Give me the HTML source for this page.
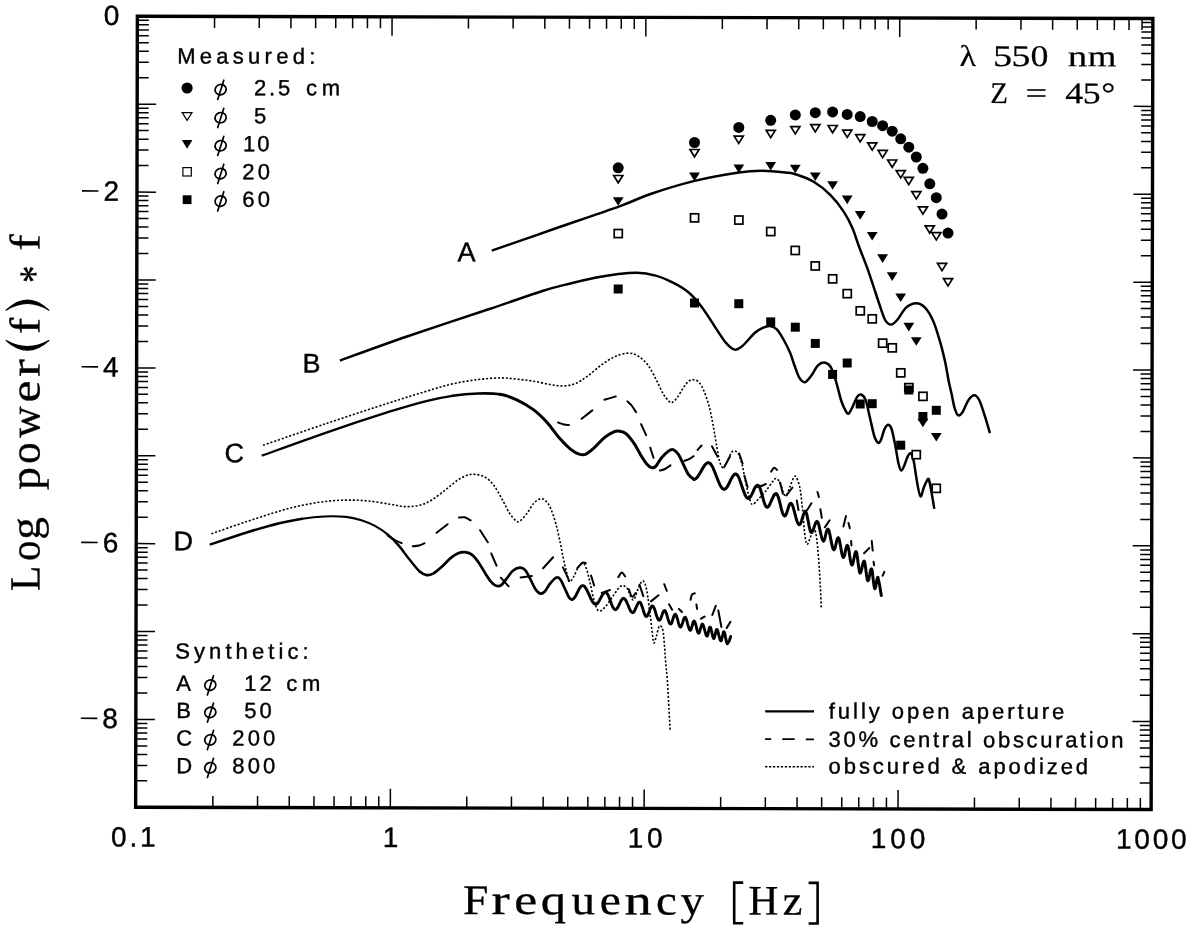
<!DOCTYPE html>
<html><head><meta charset="utf-8"><title>Log power(f)*f vs Frequency</title>
<style>html,body{margin:0;padding:0;background:#fff}svg{display:block;will-change:transform}text{font-family:"Liberation Sans",sans-serif;fill:#000}.sf{font-family:"Liberation Serif",serif}</style></head><body>
<svg width="1188" height="927" viewBox="0 0 1188 927">
<rect width="1188" height="927" fill="#fff"/>
<g transform="rotate(0.125 644.25 412.9)">
<rect x="136.5" y="17.4" width="1015.5" height="791.0" fill="none" stroke="#000" stroke-width="3.4"/>
<path d="M213.7 17.4v11.5M213.7 808.4v-11.5M258.4 17.4v11.5M258.4 808.4v-11.5M290.1 17.4v11.5M290.1 808.4v-11.5M314.8 17.4v11.5M314.8 808.4v-11.5M334.9 17.4v11.5M334.9 808.4v-11.5M351.8 17.4v11.5M351.8 808.4v-11.5M366.6 17.4v11.5M366.6 808.4v-11.5M379.6 17.4v11.5M379.6 808.4v-11.5M391.2 17.4v19M391.2 808.4v-19M467.6 17.4v11.5M467.6 808.4v-11.5M512.3 17.4v11.5M512.3 808.4v-11.5M544 17.4v11.5M544 808.4v-11.5M568.6 17.4v11.5M568.6 808.4v-11.5M588.7 17.4v11.5M588.7 808.4v-11.5M605.7 17.4v11.5M605.7 808.4v-11.5M620.4 17.4v11.5M620.4 808.4v-11.5M633.4 17.4v11.5M633.4 808.4v-11.5M645 17.4v19M645 808.4v-19M721.5 17.4v11.5M721.5 808.4v-11.5M766.2 17.4v11.5M766.2 808.4v-11.5M797.9 17.4v11.5M797.9 808.4v-11.5M822.5 17.4v11.5M822.5 808.4v-11.5M842.6 17.4v11.5M842.6 808.4v-11.5M859.6 17.4v11.5M859.6 808.4v-11.5M874.3 17.4v11.5M874.3 808.4v-11.5M887.3 17.4v11.5M887.3 808.4v-11.5M898.9 17.4v19M898.9 808.4v-19M975.3 17.4v11.5M975.3 808.4v-11.5M1020.1 17.4v11.5M1020.1 808.4v-11.5M1051.8 17.4v11.5M1051.8 808.4v-11.5M1076.4 17.4v11.5M1076.4 808.4v-11.5M1096.5 17.4v11.5M1096.5 808.4v-11.5M1113.5 17.4v11.5M1113.5 808.4v-11.5M1128.2 17.4v11.5M1128.2 808.4v-11.5M1141.2 17.4v11.5M1141.2 808.4v-11.5M136.5 105.3h19M1152 105.3h-19M136.5 78.8h11.5M1152 78.8h-11.5M136.5 63.4h11.5M1152 63.4h-11.5M136.5 52.4h11.5M1152 52.4h-11.5M136.5 43.9h11.5M1152 43.9h-11.5M136.5 36.9h11.5M1152 36.9h-11.5M136.5 31h11.5M1152 31h-11.5M136.5 25.9h11.5M1152 25.9h-11.5M136.5 21.4h11.5M1152 21.4h-11.5M136.5 193.2h19M1152 193.2h-19M136.5 166.7h11.5M1152 166.7h-11.5M136.5 151.2h11.5M1152 151.2h-11.5M136.5 140.3h11.5M1152 140.3h-11.5M136.5 131.7h11.5M1152 131.7h-11.5M136.5 124.8h11.5M1152 124.8h-11.5M136.5 118.9h11.5M1152 118.9h-11.5M136.5 113.8h11.5M1152 113.8h-11.5M136.5 109.3h11.5M1152 109.3h-11.5M136.5 281.1h19M1152 281.1h-19M136.5 254.6h11.5M1152 254.6h-11.5M136.5 239.1h11.5M1152 239.1h-11.5M136.5 228.2h11.5M1152 228.2h-11.5M136.5 219.6h11.5M1152 219.6h-11.5M136.5 212.7h11.5M1152 212.7h-11.5M136.5 206.8h11.5M1152 206.8h-11.5M136.5 201.7h11.5M1152 201.7h-11.5M136.5 197.2h11.5M1152 197.2h-11.5M136.5 369h19M1152 369h-19M136.5 342.5h11.5M1152 342.5h-11.5M136.5 327h11.5M1152 327h-11.5M136.5 316h11.5M1152 316h-11.5M136.5 307.5h11.5M1152 307.5h-11.5M136.5 300.6h11.5M1152 300.6h-11.5M136.5 294.7h11.5M1152 294.7h-11.5M136.5 289.6h11.5M1152 289.6h-11.5M136.5 285.1h11.5M1152 285.1h-11.5M136.5 456.8h19M1152 456.8h-19M136.5 430.4h11.5M1152 430.4h-11.5M136.5 414.9h11.5M1152 414.9h-11.5M136.5 403.9h11.5M1152 403.9h-11.5M136.5 395.4h11.5M1152 395.4h-11.5M136.5 388.5h11.5M1152 388.5h-11.5M136.5 382.6h11.5M1152 382.6h-11.5M136.5 377.5h11.5M1152 377.5h-11.5M136.5 373h11.5M1152 373h-11.5M136.5 544.7h19M1152 544.7h-19M136.5 518.3h11.5M1152 518.3h-11.5M136.5 502.8h11.5M1152 502.8h-11.5M136.5 491.8h11.5M1152 491.8h-11.5M136.5 483.3h11.5M1152 483.3h-11.5M136.5 476.3h11.5M1152 476.3h-11.5M136.5 470.5h11.5M1152 470.5h-11.5M136.5 465.4h11.5M1152 465.4h-11.5M136.5 460.9h11.5M1152 460.9h-11.5M136.5 632.6h19M1152 632.6h-19M136.5 606.2h11.5M1152 606.2h-11.5M136.5 590.7h11.5M1152 590.7h-11.5M136.5 579.7h11.5M1152 579.7h-11.5M136.5 571.2h11.5M1152 571.2h-11.5M136.5 564.2h11.5M1152 564.2h-11.5M136.5 558.3h11.5M1152 558.3h-11.5M136.5 553.3h11.5M1152 553.3h-11.5M136.5 548.8h11.5M1152 548.8h-11.5M136.5 720.5h19M1152 720.5h-19M136.5 694.1h11.5M1152 694.1h-11.5M136.5 678.6h11.5M1152 678.6h-11.5M136.5 667.6h11.5M1152 667.6h-11.5M136.5 659.1h11.5M1152 659.1h-11.5M136.5 652.1h11.5M1152 652.1h-11.5M136.5 646.2h11.5M1152 646.2h-11.5M136.5 641.1h11.5M1152 641.1h-11.5M136.5 636.6h11.5M1152 636.6h-11.5M136.5 781.9h11.5M1152 781.9h-11.5M136.5 766.5h11.5M1152 766.5h-11.5M136.5 755.5h11.5M1152 755.5h-11.5M136.5 747h11.5M1152 747h-11.5M136.5 740h11.5M1152 740h-11.5M136.5 734.1h11.5M1152 734.1h-11.5M136.5 729h11.5M1152 729h-11.5M136.5 724.5h11.5M1152 724.5h-11.5" stroke="#000" stroke-width="1.5" fill="none"/>
<text x="118.6" y="26.1" font-size="28" stroke="#000" stroke-width="0.4" text-anchor="end">0</text>
<text x="118.6" y="201.9" font-size="28" stroke="#000" stroke-width="0.4" text-anchor="end">2</text>
<path d="M81.5 192.2h16.5" stroke="#000" stroke-width="1.7"/>
<text x="118.6" y="377.7" font-size="28" stroke="#000" stroke-width="0.4" text-anchor="end">4</text>
<path d="M81.5 368h16.5" stroke="#000" stroke-width="1.7"/>
<text x="118.6" y="553.4" font-size="28" stroke="#000" stroke-width="0.4" text-anchor="end">6</text>
<path d="M81.5 543.7h16.5" stroke="#000" stroke-width="1.7"/>
<text x="118.6" y="729.2" font-size="28" stroke="#000" stroke-width="0.4" text-anchor="end">8</text>
<path d="M81.5 719.5h16.5" stroke="#000" stroke-width="1.7"/>
<text x="112" y="847.6" font-size="28" stroke="#000" stroke-width="0.4" textLength="44.5" lengthAdjust="spacing">0.1</text>
<text x="383.6" y="847.6" font-size="28" stroke="#000" stroke-width="0.4">1</text>
<text x="628.6" y="847.6" font-size="28" stroke="#000" stroke-width="0.4" textLength="35" lengthAdjust="spacing">10</text>
<text x="871.7" y="847.6" font-size="28" stroke="#000" stroke-width="0.4" textLength="54.5" lengthAdjust="spacing">100</text>
<text x="1117" y="847.6" font-size="28" stroke="#000" stroke-width="0.4" textLength="70.5" lengthAdjust="spacing">1000</text>
</g>
<text x="0" y="0" font-size="22" textLength="138" lengthAdjust="spacing" stroke="#000" stroke-width="0.4" transform="translate(177.3 63.4) rotate(0.125)">Measured:</text>
<g fill="none" stroke="#000" stroke-width="1.7" stroke-linecap="round"><ellipse cx="220.6" cy="89.6" rx="5.6" ry="5.1" transform="rotate(-20 220.6 89.6)"/><path d="M223.8 80.2L217.7 99.4"/></g>
<g fill="none" stroke="#000" stroke-width="1.7" stroke-linecap="round"><ellipse cx="220.6" cy="117.7" rx="5.6" ry="5.1" transform="rotate(-20 220.6 117.7)"/><path d="M223.8 108.3L217.7 127.5"/></g>
<g fill="none" stroke="#000" stroke-width="1.7" stroke-linecap="round"><ellipse cx="220.6" cy="145.7" rx="5.6" ry="5.1" transform="rotate(-20 220.6 145.7)"/><path d="M223.8 136.3L217.7 155.5"/></g>
<g fill="none" stroke="#000" stroke-width="1.7" stroke-linecap="round"><ellipse cx="220.6" cy="173.6" rx="5.6" ry="5.1" transform="rotate(-20 220.6 173.6)"/><path d="M223.8 164.2L217.7 183.4"/></g>
<g fill="none" stroke="#000" stroke-width="1.7" stroke-linecap="round"><ellipse cx="220.6" cy="201.1" rx="5.6" ry="5.1" transform="rotate(-20 220.6 201.1)"/><path d="M223.8 191.7L217.7 210.9"/></g>
<text x="0" y="0" font-size="22" textLength="36.3" lengthAdjust="spacing" stroke="#000" stroke-width="0.4" transform="translate(254 95.2) rotate(0.125)">2.5</text>
<text x="0" y="0" font-size="22" textLength="34" lengthAdjust="spacing" stroke="#000" stroke-width="0.4" transform="translate(306 95.2) rotate(0.125)">cm</text>
<text x="0" y="0" font-size="22" stroke="#000" stroke-width="0.4" transform="translate(254 123.3) rotate(0.125)">5</text>
<text x="0" y="0" font-size="22" textLength="26.5" lengthAdjust="spacing" stroke="#000" stroke-width="0.4" transform="translate(243 151.3) rotate(0.125)">10</text>
<text x="0" y="0" font-size="22" textLength="27.7" lengthAdjust="spacing" stroke="#000" stroke-width="0.4" transform="translate(242.3 179.2) rotate(0.125)">20</text>
<text x="0" y="0" font-size="22" textLength="27.7" lengthAdjust="spacing" stroke="#000" stroke-width="0.4" transform="translate(242.3 206.7) rotate(0.125)">60</text>
<circle cx="187.1" cy="88" r="5.6"/>
<path d="M182.2 112.6h9.8l-4.9 7.7z" fill="#fff" stroke="#000" stroke-width="1.2" stroke-linejoin="miter"/>
<path d="M181.8 140.1h10.6l-5.3 8.6z" fill="#000"/>
<rect x="182.9" y="167.6" width="8.4" height="8.4" fill="#fff" stroke="#000" stroke-width="1.2"/>
<rect x="182.7" y="195.3" width="8.8" height="8.8" fill="#000"/>
<text x="0" y="0" font-size="22" textLength="133.5" lengthAdjust="spacing" stroke="#000" stroke-width="0.4" transform="translate(175.2 658.5) rotate(0.125)">Synthetic:</text>
<text x="0" y="0" font-size="22" stroke="#000" stroke-width="0.4" transform="translate(176.3 690.7) rotate(0.125)">A</text>
<g fill="none" stroke="#000" stroke-width="1.7" stroke-linecap="round"><ellipse cx="210.3" cy="685.1" rx="5.6" ry="5.1" transform="rotate(-20 210.3 685.1)"/><path d="M213.5 675.7L207.4 694.9"/></g>
<text x="0" y="0" font-size="22" stroke="#000" stroke-width="0.4" transform="translate(176.3 718) rotate(0.125)">B</text>
<g fill="none" stroke="#000" stroke-width="1.7" stroke-linecap="round"><ellipse cx="210.3" cy="712.4" rx="5.6" ry="5.1" transform="rotate(-20 210.3 712.4)"/><path d="M213.5 703L207.4 722.2"/></g>
<text x="0" y="0" font-size="22" stroke="#000" stroke-width="0.4" transform="translate(176.3 745.4) rotate(0.125)">C</text>
<g fill="none" stroke="#000" stroke-width="1.7" stroke-linecap="round"><ellipse cx="210.3" cy="739.8" rx="5.6" ry="5.1" transform="rotate(-20 210.3 739.8)"/><path d="M213.5 730.4L207.4 749.6"/></g>
<text x="0" y="0" font-size="22" stroke="#000" stroke-width="0.4" transform="translate(176.3 773.3) rotate(0.125)">D</text>
<g fill="none" stroke="#000" stroke-width="1.7" stroke-linecap="round"><ellipse cx="210.3" cy="767.7" rx="5.6" ry="5.1" transform="rotate(-20 210.3 767.7)"/><path d="M213.5 758.3L207.4 777.5"/></g>
<text x="0" y="0" font-size="22" textLength="27.5" lengthAdjust="spacing" stroke="#000" stroke-width="0.4" transform="translate(244.2 690.7) rotate(0.125)">12</text>
<text x="0" y="0" font-size="22" textLength="34" lengthAdjust="spacing" stroke="#000" stroke-width="0.4" transform="translate(286.3 690.7) rotate(0.125)">cm</text>
<text x="0" y="0" font-size="22" textLength="27.5" lengthAdjust="spacing" stroke="#000" stroke-width="0.4" transform="translate(244.2 718) rotate(0.125)">50</text>
<text x="0" y="0" font-size="22" textLength="43" lengthAdjust="spacing" stroke="#000" stroke-width="0.4" transform="translate(232.3 745.4) rotate(0.125)">200</text>
<text x="0" y="0" font-size="22" textLength="43" lengthAdjust="spacing" stroke="#000" stroke-width="0.4" transform="translate(232.3 773.3) rotate(0.125)">800</text>
<path d="M765.2 711.4H814" stroke="#000" stroke-width="2.3" fill="none"/>
<path d="M765.1 739.2h6.1M782.3 739.2h12.4M805.8 739.3h8.1" stroke="#000" stroke-width="1.8" fill="none"/>
<path d="M765.1 766.7H814" stroke="#000" stroke-width="1.5" stroke-dasharray="2.3 1.63" fill="none"/>
<text x="0" y="0" font-size="22" textLength="235.5" lengthAdjust="spacing" stroke="#000" stroke-width="0.4" transform="translate(828.8 718.4) rotate(0.125)">fully open aperture</text>
<text x="0" y="0" font-size="22" textLength="295" lengthAdjust="spacing" stroke="#000" stroke-width="0.4" transform="translate(828.6 746.8) rotate(0.125)">30% central obscuration</text>
<text x="0" y="0" font-size="22" textLength="259.5" lengthAdjust="spacing" stroke="#000" stroke-width="0.4" transform="translate(828.6 773.4) rotate(0.125)">obscured &amp; apodized</text>
<text x="0" y="0" font-size="27" stroke="#000" stroke-width="0.4" transform="translate(457.5 261.3) rotate(0.125)">A</text>
<text x="0" y="0" font-size="27" stroke="#000" stroke-width="0.4" transform="translate(302.5 372.6) rotate(0.125)">B</text>
<text x="0" y="0" font-size="27" stroke="#000" stroke-width="0.4" transform="translate(224.5 462.2) rotate(0.125)">C</text>
<text x="0" y="0" font-size="27" stroke="#000" stroke-width="0.4" transform="translate(173.5 550.2) rotate(0.125)">D</text>
<text class="sf" font-size="30" stroke="#000" stroke-width="0.2" transform="translate(959.4 65.9) rotate(0.125) scale(1.140 1)">λ</text>
<text class="sf" font-size="30" stroke="#000" stroke-width="0.2" transform="translate(993.0 66) rotate(0.125) scale(1.274 1)">5</text>
<text class="sf" font-size="30" stroke="#000" stroke-width="0.2" transform="translate(1011.4 66) rotate(0.125) scale(1.258 1)">5</text>
<text class="sf" font-size="30" stroke="#000" stroke-width="0.2" transform="translate(1030.4 66.1) rotate(0.125) scale(1.195 1)">0</text>
<text class="sf" font-size="30" stroke="#000" stroke-width="0.2" transform="translate(1067.7 66.2) rotate(0.125) scale(1.300 1)">n</text>
<text class="sf" font-size="30" stroke="#000" stroke-width="0.2" transform="translate(1087.8 66.2) rotate(0.125) scale(1.228 1)">m</text>
<text class="sf" font-size="30" stroke="#000" stroke-width="0.2" transform="translate(990.3 103.1) rotate(0.125) scale(0.964 1)">Z</text>
<text class="sf" font-size="30" stroke="#000" stroke-width="0.2" transform="translate(1025.4 103.1) rotate(0.125) scale(1.282 1)">=</text>
<text class="sf" font-size="30" stroke="#000" stroke-width="0.2" transform="translate(1065.2 103.2) rotate(0.125) scale(1.198 1)">4</text>
<text class="sf" font-size="30" stroke="#000" stroke-width="0.2" transform="translate(1082.7 103.3) rotate(0.125) scale(1.192 1)">5</text>
<text class="sf" font-size="30" stroke="#000" stroke-width="0.2" transform="translate(1101.3 103.3) rotate(0.125) scale(1.165 1)">°</text>
<text class="sf" font-size="42" stroke="#000" stroke-width="0.3" transform="translate(463.0 914) rotate(0.125) scale(1.086 1)">F</text>
<text class="sf" font-size="42" stroke="#000" stroke-width="0.3" transform="translate(491.6 914.1) rotate(0.125) scale(1.300 1)">r</text>
<text class="sf" font-size="42" stroke="#000" stroke-width="0.3" transform="translate(514.3 914.1) rotate(0.125) scale(1.229 1)">e</text>
<text class="sf" font-size="42" stroke="#000" stroke-width="0.3" transform="translate(540.7 914.2) rotate(0.125) scale(1.202 1)">q</text>
<text class="sf" font-size="42" stroke="#000" stroke-width="0.3" transform="translate(571.4 914.2) rotate(0.125) scale(1.120 1)">u</text>
<text class="sf" font-size="42" stroke="#000" stroke-width="0.3" transform="translate(599.8 914.3) rotate(0.125) scale(1.132 1)">e</text>
<text class="sf" font-size="42" stroke="#000" stroke-width="0.3" transform="translate(624.4 914.4) rotate(0.125) scale(1.299 1)">n</text>
<text class="sf" font-size="42" stroke="#000" stroke-width="0.3" transform="translate(656.1 914.4) rotate(0.125) scale(1.117 1)">c</text>
<text class="sf" font-size="42" stroke="#000" stroke-width="0.3" transform="translate(680.6 914.5) rotate(0.125) scale(1.117 1)">y</text>
<text class="sf" font-size="42" stroke="#000" stroke-width="0.3" transform="translate(748.6 914.6) rotate(0.125) scale(0.982 1)">H</text>
<text class="sf" font-size="42" stroke="#000" stroke-width="0.3" transform="translate(782.8 914.7) rotate(0.125) scale(1.052 1)">z</text>
<path d="M743.2 882.6H734.2V923.2H743.2" fill="none" stroke="#000" stroke-width="2.6" stroke-linejoin="miter"/>
<path d="M808.6 882.9H817.6V923.5H808.6" fill="none" stroke="#000" stroke-width="2.6" stroke-linejoin="miter"/>
<text class="sf" font-size="43" stroke="#000" stroke-width="0.3" transform="translate(39.6 590.9) rotate(-89.9) scale(0.962 1)">L</text>
<text class="sf" font-size="43" stroke="#000" stroke-width="0.3" transform="translate(39.6 561.1) rotate(-89.9) scale(0.949 1)">o</text>
<text class="sf" font-size="43" stroke="#000" stroke-width="0.3" transform="translate(39.6 539.8) rotate(-89.9) scale(1.051 1)">g</text>
<text class="sf" font-size="43" stroke="#000" stroke-width="0.3" transform="translate(39.6 490.1) rotate(-89.9) scale(1.067 1)">p</text>
<text class="sf" font-size="43" stroke="#000" stroke-width="0.3" transform="translate(39.6 464.1) rotate(-89.9) scale(1.004 1)">o</text>
<text class="sf" font-size="43" stroke="#000" stroke-width="0.3" transform="translate(39.6 437.7) rotate(-89.9) scale(1.012 1)">w</text>
<text class="sf" font-size="43" stroke="#000" stroke-width="0.3" transform="translate(39.6 402.5) rotate(-89.9) scale(1.150 1)">e</text>
<text class="sf" font-size="43" stroke="#000" stroke-width="0.3" transform="translate(39.6 377.0) rotate(-89.9) scale(1.238 1)">r</text>
<text class="sf" font-size="43" stroke="#000" stroke-width="0.3" transform="translate(39.6 334.0) rotate(-89.9) scale(1.123 1)">f</text>
<text class="sf" font-size="43" stroke="#000" stroke-width="0.3" transform="translate(48.8 282.9) rotate(-89.9) scale(0.813 1)">*</text>
<text class="sf" font-size="43" stroke="#000" stroke-width="0.3" transform="translate(39.6 250.8) rotate(-89.9) scale(1.154 1)">f</text>
<path d="M6.1 340.6Q27.5 359.8 48.9 340.6Q27.5 352.6 6.1 340.6Z" fill="#000" stroke="#000" stroke-width="1.1" stroke-linejoin="round"/>
<path d="M6.1 310.2Q27.5 289.8 48.9 310.2Q27.5 296.8 6.1 310.2Z" fill="#000" stroke="#000" stroke-width="1.1" stroke-linejoin="round"/>
<path d="M491.8 250.6C502.5 246.9 534.6 235.7 556 228.3C577.4 220.9 604.2 211.8 620 206.1C635.8 200.4 638.1 198.2 650.5 194C662.9 189.8 679.9 184.5 694.6 180.9C709.3 177.3 727.7 174.2 738.9 172.5C750.1 170.8 753.9 170.8 761.6 170.8C769.3 170.8 779.6 171.9 785.2 172.5C790.9 173.1 790.8 172.6 795.5 174.2C800.2 175.8 807.9 178.3 813.7 181.8C819.5 185.3 825.5 190.1 830.5 195.2C835.5 200.2 840.4 206.6 844 212.1C847.6 217.6 849.9 222.2 852.4 228C854.9 233.8 856.6 240 859.1 246.8C861.6 253.6 865 261.7 867.5 268.7C870 275.7 872 282.2 874.3 288.9C876.5 295.6 879.2 303.9 881 309.1C882.8 314.3 883.5 317.5 885.2 320.1C886.9 322.7 889 324.8 891.1 324.6C893.2 324.5 895.3 322.1 897.8 319.2C900.3 316.3 903.2 310.1 906.3 307.4C909.4 304.7 913.3 303.2 916.4 303.2C919.5 303.2 922 304.4 924.8 307.4C927.6 310.3 930.7 315.3 933.2 320.9C935.7 326.5 937.9 334.4 939.9 341.1C941.9 347.8 943.5 354.6 945 361.3C946.5 368 947.6 375.9 948.7 381.3C949.8 386.7 950.5 389.1 951.5 393.5C952.5 397.9 953.5 404.4 954.6 408C955.7 411.6 956.7 414.5 958 415.2C959.3 415.9 960.8 414.8 962.5 412.3C964.2 409.8 966.4 403.1 968.4 400.3C970.4 397.5 972.4 395.3 974.2 395.3C976 395.3 977.5 396.7 979.3 400.3C981.1 403.9 983.4 411.6 985.2 417.1C987 422.6 989.1 430.4 989.9 433.1" fill="none" stroke="#000" stroke-width="2.5" stroke-linejoin="round"/>
<path d="M339.9 360.5C351.2 356.4 382.9 344.7 407.7 336.2C432.5 327.7 466.2 316.8 488.6 309.3C511.1 301.8 528.9 295.3 542.4 291C555.9 286.7 560.4 285.9 569.4 283.7C578.4 281.4 588.4 279.1 596.3 277.5C604.2 275.9 610 275 616.8 274.2C623.6 273.4 630.5 272.5 637 272.7C643.5 272.9 649.7 274 655.6 275.6C661.5 277.2 667.1 279.7 672.4 282.3C677.7 284.9 682.7 287.6 687.5 291.5C692.3 295.4 696.5 300.1 701 305.9C705.5 311.7 710.6 320.2 714.5 326.1C718.4 332 721.8 337.6 724.6 341.2C727.4 344.8 729.3 346.5 731.3 347.9C733.3 349.3 734.4 350 736.4 349.6C738.4 349.2 740 348.2 743.1 345.4C746.2 342.6 751.5 335.8 754.9 332.8C758.3 329.9 760.8 328.8 763.3 327.7C765.8 326.6 767.8 325.8 770 326.1C772.2 326.4 774.5 327.2 776.8 329.4C779 331.6 781.3 335.6 783.5 339.5C785.7 343.4 788.4 348.7 790.2 353C792 357.3 793 361.4 794.5 365.5C796 369.6 797.6 374.9 799.3 377.7C801 380.5 802.8 382.5 804.8 382.2C806.8 381.9 809.1 378.6 811.2 375.8C813.4 373.1 815.6 367.9 817.7 365.7C819.9 363.5 822 362.4 824.1 362.6C826.2 362.8 828.5 363.6 830.5 366.7C832.5 369.8 834.2 375.5 836 381.3C837.8 387.1 839.8 396.4 841.5 401.5C843.2 406.6 844.9 409.6 846.1 411.6C847.3 413.6 847.7 414.2 848.8 413.4C849.9 412.6 851.1 409.8 852.5 407C853.9 404.2 855.7 399 857.1 396.9C858.5 394.8 859.6 394.1 861 394.5C862.4 394.9 864 395.8 865.5 399.6C867 403.4 868.4 411.4 869.9 417.5C871.4 423.6 872.9 431.8 874.3 436C875.6 440.2 876.9 442 878 442.7C879.1 443.4 879.8 442.2 880.9 440C882 437.8 883.2 431.9 884.4 429.4C885.6 426.9 886.7 424.9 887.9 424.8C889.1 424.7 890.2 425.3 891.4 428.5C892.6 431.7 893.8 438.2 895 444C896.2 449.8 897.4 458.6 898.4 463C899.4 467.4 900.3 470.3 901.3 470.6C902.3 470.9 903.4 467.5 904.5 465C905.6 462.5 906.9 457.7 908 455.8C909.1 453.9 910.1 452.6 911.1 453.5C912.1 454.4 912.8 456.5 913.8 461.5C914.8 466.5 916.2 477.7 917.3 483.5C918.4 489.3 919.4 495.8 920.5 496.5C921.6 497.2 922.7 490.2 923.8 487.5C924.9 484.8 926.2 481.9 927 480.5C927.8 479.1 928.1 477.9 928.8 479.4C929.5 480.9 930.1 484.6 931 489.5C931.9 494.4 933.8 505.7 934.3 508.9" fill="none" stroke="#000" stroke-width="2.5" stroke-linejoin="round"/>
<path d="M262.6 455.4C273.2 451.6 305.2 439.9 326.3 432.6C347.4 425.3 372.6 417 389.4 411.7C406.2 406.4 416.8 403.4 427.3 400.8C437.8 398.2 444.1 397 452.5 395.8" fill="none" stroke="#000" stroke-width="2.3" stroke-linejoin="round" stroke-linecap="round"/>
<path d="M452.5 395.8C460.9 394.6 469.9 393.8 477.8 393.5C485.7 393.2 493.5 393.2 500 394.3" fill="none" stroke="#000" stroke-width="2.6" stroke-linejoin="round" stroke-linecap="round"/>
<path d="M500 394.3C506.5 395.4 511.2 397.2 516.8 399.8C522.4 402.4 528.7 406.1 533.7 409.9C538.8 413.7 542.9 417.9 547.1 422.5C551.3 427.1 555 433.1 558.9 437.6C562.8 442.1 567.3 446.6 570.7 449.4C574.1 452.1 576.6 453.3 579.1 454.1C581.6 454.9 583.4 455.2 585.9 454.1C588.4 453 591.2 450.4 594.3 447.7C597.4 444.9 601.3 440.2 604.4 437.6C607.5 435 610.3 433.4 612.8 432.3C615.3 431.2 617.2 430.9 619.5 431.2C621.8 431.5 623.8 431.7 626.3 433.9C628.8 436.1 632.2 440.7 634.7 444.4C637.2 448.1 639.4 453 641.4 456.2C643.4 459.4 644.8 461.8 646.5 463.7C648.2 465.6 650 467.2 651.5 467.6C653 468 654 467.9 655.7 466.3C657.4 464.7 659.5 460.3 661.6 457.8C663.7 455.3 666.5 452.5 668.4 451.1C670.3 449.7 671.5 449 673.2 449.6C674.9 450.2 676.8 452 678.5 454.5C680.2 457 681.8 461.2 683.5 464.6C685.2 468 686.9 472.2 688.6 474.7C690.4 477.2 693.1 478.6 694 479.4" fill="none" stroke="#000" stroke-width="3.0" stroke-linejoin="round" stroke-linecap="round"/>
<path d="M694 479.4L695.8 478.8L697.6 476.9L699.4 474.2L701.2 471L703 467.8L704.8 465.1L706.6 463.2L708.4 462.6L710.4 463.6L712.4 466.5L714.3 470.9L716.3 476L718.3 481.1L720.2 485.5L722.2 488.4L724.2 489.4L725.6 488.8L727.1 487.1L728.5 484.6L729.9 481.6L731.3 478.7L732.8 476.2L734.2 474.5L735.6 473.9L737.2 474.8L738.8 477.5L740.3 481.5L741.9 486.2L743.5 490.9L745.1 494.9L746.6 497.6L748.2 498.5L749.4 498L750.6 496.6L751.8 494.4L753 491.9L754.1 489.3L755.3 487.1L756.5 485.7L757.7 485.2L758.9 486L760.1 488.4L761.2 492L762.4 496.2L763.6 500.5L764.8 504.1L765.9 506.5L767.1 507.3L768.2 506.8L769.3 505.3L770.4 503L771.5 500.4L772.7 497.8L773.8 495.5L774.9 494L776 493.5L777.1 494.4L778.2 496.8L779.3 500.5L780.4 504.8L781.4 509.1L782.5 512.8L783.6 515.2L784.7 516.1L785.5 515.6L786.2 514.2L787 512.1L787.7 509.7L788.5 507.2L789.2 505.1L790 503.7L790.7 503.2L791.8 504L792.9 506.3L793.9 509.8L795 514L796.1 518.1L797.1 521.6L798.2 523.9L799.3 524.7L800.1 524.2L800.8 522.8L801.6 520.7L802.3 518.2L803.1 515.8L803.9 513.7L804.6 512.3L805.4 511.8L806.1 512.6L806.9 514.8L807.6 518.2L808.4 522.1L809.1 526.1L809.9 529.5L810.6 531.7L811.4 532.5L812.1 532.1L812.8 530.9L813.5 529L814.2 526.9L814.9 524.8L815.6 522.9L816.3 521.7L817 521.3L817.8 522.1L818.6 524.2L819.4 527.4L820.2 531.2L821.1 535L821.9 538.2L822.7 540.3L823.5 541.1L824 540.6L824.6 539.3L825.1 537.4L825.6 535.1L826.2 532.7L826.7 530.8L827.3 529.5L827.8 529L828.6 529.8L829.3 532L830.1 535.4L830.8 539.4L831.6 543.4L832.4 546.8L833.1 549L833.9 549.8L834.4 549.3L835 548L835.5 546.1L836 543.8L836.6 541.4L837.1 539.5L837.7 538.2L838.2 537.7L838.9 538.5L839.5 540.6L840.1 543.8L840.8 547.6L841.5 551.4L842.1 554.6L842.8 556.7L843.4 557.5L843.9 557L844.4 555.7L844.9 553.8L845.3 551.5L845.8 549.1L846.3 547.2L846.8 545.9L847.3 545.4L847.9 546.1L848.5 548.3L849.1 551.4L849.6 555.2L850.2 559L850.8 562.1L851.4 564.3L852 565L852.5 564.5L853 563L853.5 560.8L854 558.2L854.5 555.7L855 553.5L855.5 552L856 551.5L856.5 552.3L857 554.7L857.5 558.2L858 562.3L858.6 566.4L859.1 569.9L859.6 572.3L860.1 573.1L860.6 572.6L861.1 571.3L861.6 569.4L862.1 567.1L862.6 564.7L863.1 562.8L863.6 561.5L864.1 561L864.6 561.8L865 563.9L865.5 567.1L866 570.9L866.5 574.7L867 577.9L867.4 580L867.9 580.8L868.4 580.3L868.8 579L869.2 577.1L869.7 574.8L870.1 572.5L870.6 570.6L871 569.3L871.5 568.8L871.9 569.6L872.3 571.7L872.7 574.9L873.1 578.7L873.6 582.5L874 585.7L874.4 587.8L874.8 588.6L875.2 588.2L875.6 587L876 585.1L876.3 583L876.7 580.9L877.1 579L877.5 577.8L877.9 577.4L879.5 584.5L881.3 595.5" fill="none" stroke="#000" stroke-width="3.0" stroke-linejoin="round" stroke-linecap="round"/>
<path d="M263.1 445.3C273.6 441.7 305.2 430.6 326.3 423.5C347.4 416.4 372.6 408.2 389.4 402.8C406.2 397.4 416.8 394.1 427.3 391C437.8 387.9 444.1 385.8 452.5 383.9C460.9 382 469.9 380.6 477.8 379.6C485.7 378.6 493.5 378 500 377.9C506.5 377.8 511.2 378.6 516.8 379.1C522.4 379.7 528.1 380.3 533.7 381.2C539.3 382.1 545.5 383.8 550.5 384.6C555.5 385.4 559.8 386.1 564 385.9C568.2 385.7 571.9 385 575.8 383.4C579.7 381.8 583.3 379.2 587.5 376.2C591.7 373.2 596.5 368.5 601 365.3C605.5 362.1 610 358.8 614.5 356.8C619 354.8 624 353.2 627.9 353.1C631.8 353 634.6 354 638 356C641.4 358 645 361.2 648.1 365.3C651.2 369.4 654.1 375.6 656.6 380.4C659.1 385.2 661.3 390.5 663.3 393.9C665.3 397.3 667 399.2 668.4 400.6C669.8 402.1 670.1 403 671.5 402.6C672.9 402.2 674.8 400.7 676.8 398.2C678.8 395.7 681.3 390.6 683.3 387.8C685.2 385 686.9 382.8 688.5 381.4C690.1 380 691.3 379.6 693 379.7C694.7 379.8 697 380.1 698.8 382C700.6 383.9 702.4 387.4 704 391.1C705.6 394.8 707.2 399.5 708.5 404C709.8 408.5 710.8 413.6 711.8 418.3C712.8 423.1 713.5 427.6 714.4 432.5C715.3 437.4 716.1 443.2 717 448C717.9 452.8 718.6 457.8 719.5 461C720.4 464.2 721.2 466.3 722.1 467.2C723 468.1 723.6 467.6 724.7 466.1C725.8 464.6 727.3 460.9 728.6 458.4C729.9 455.9 731.2 452.1 732.7 451.2C734.2 450.3 736.4 451.1 737.9 453.1C739.4 455.1 740.7 459.5 741.8 463.3C742.9 467.1 743.4 471.2 744.4 475.8C745.4 480.4 746.5 486.5 747.6 490.9C748.7 495.3 749.8 500.1 750.7 502.3C751.6 504.5 751.9 504.7 753.2 504.2C754.5 503.7 756.2 501.3 758.3 499.1C760.4 496.9 763.6 493.7 765.9 490.9C768.2 488.1 770.5 484.2 772.2 482.1C773.9 480 774.6 478.3 776 478.5C777.4 478.7 779.1 480.8 780.4 483.3C781.6 485.8 782.5 491.4 783.5 493.4C784.5 495.4 785.5 496.4 786.5 495.3C787.5 494.2 788.6 490 789.8 487.1C791 484.2 792.6 479.4 793.6 477.7C794.6 475.9 794.9 475.7 795.8 476.6C796.6 477.5 797.9 480.8 798.7 483.3C799.5 485.8 799.8 486.8 800.5 491.5C801.2 496.2 802.1 505 802.8 511.8C803.5 518.6 803.8 527.1 804.5 532.5C805.2 537.9 805.9 543.1 806.8 544.2C807.7 545.4 808.6 541.9 809.7 539.4C810.8 536.9 812.2 530.1 813.2 529C814.2 527.9 815 529.6 815.7 532.5C816.4 535.4 816.9 540.5 817.5 546.3C818.1 552 818.7 560.1 819.2 567C819.7 573.9 820 580.9 820.4 587.7C820.8 594.5 821.1 604.3 821.3 607.6" fill="none" stroke="#000" stroke-width="1.6" stroke-linejoin="round" stroke-dasharray="2.1 1.85"/>
<path d="M558.1 422.5C559.1 422.9 562.2 424.2 564 424.6C565.8 425 568.2 424.9 569 425M581.6 418.8C583.4 417.4 590.5 411.8 592.3 410.4M604.4 399.8C606.3 399.2 613.9 397 615.8 396.4M627.4 401.4C628.2 402.2 630.6 404.2 632 406C633.4 407.8 635.3 411.1 636 412.1M641.1 424.2C641.9 426 645.3 433.3 646.1 435.1M650.3 447.7C650.8 449.4 653 456.1 653.5 457.8M659.9 470.5C660.8 470.2 663.2 469.9 665 469C666.8 468.1 669.5 466 670.4 465.4M684.3 460.9C685.1 460.6 687.5 460 689 459.2C690.5 458.4 692.8 456.7 693.6 456.2M697.6 449.9C698.2 449.2 700.9 446.2 701.5 445.5M712 446.4C712.9 448.1 716.6 454.9 717.5 456.6M724.1 467.2C725.1 465.4 728.9 458.4 729.9 456.6M739.2 453.5C739.8 455.2 742 461.9 742.6 463.6M744.4 475.8C744.9 477.7 747.1 485.2 747.6 487.1M755.8 487.1C756.7 486.9 759.3 486.5 761 486C762.7 485.5 765.1 484.3 765.9 484M771.2 471.6C771.7 471 773.1 468.1 774.1 467.8C775.1 467.5 776.5 469.6 777 470M780 482.4C780.5 484.3 782.4 491.8 782.9 493.7M786.4 495.4C787.4 494.1 791.4 488.9 792.4 487.6M796.8 500.6C797.1 502.2 798.2 508.5 798.5 510.1M804.5 510.9C804.9 510.8 805.9 511.3 807 510C808.1 508.7 810.7 504.3 811.4 503.2M817.5 491.9C817.7 492.8 818.7 496.2 818.9 497.1M820.4 509.2C820.6 510.6 821.6 516.4 821.8 517.8M824.9 527.3C825.7 526.1 828.8 521.5 829.6 520.4M843.4 526.5C843.8 524.8 845.6 517.8 846 516.1M848.5 523C848.7 523.9 849.6 527.3 849.8 528.2M851.1 541.1C851.2 541.8 851.4 544.7 851.5 545.4M864.1 553.2C865 552.3 868.4 548.9 869.3 548M871.8 541.1C871.9 542.7 872.6 549 872.7 550.6M873.6 561.8C873.7 562.4 874 564.7 874.1 565.3M882.6 575.7C882.9 575.1 884 572.5 884.3 571.9" fill="none" stroke="#000" stroke-width="2.0" stroke-linejoin="round" stroke-linecap="round"/>
<path d="M210.8 544.3C216.9 542.3 235.9 535.8 247.5 532.2C259.1 528.7 271.3 525.2 280.4 523C289.5 520.8 295 519.8 302.3 518.7" fill="none" stroke="#000" stroke-width="2.5" stroke-linejoin="round" stroke-linecap="round"/>
<path d="M302.3 518.7C309.6 517.6 316.8 516.8 324.1 516.5C331.4 516.2 339.8 516.3 346 516.9C352.2 517.5 356.6 518.7 361.4 520.2C366.1 521.7 370.1 523.3 374.5 525.7C378.9 528.1 383.6 531.1 387.6 534.4" fill="none" stroke="#000" stroke-width="2.1" stroke-linejoin="round" stroke-linecap="round"/>
<path d="M387.6 534.4C391.6 537.7 395 541.2 398.6 545.4C402.2 549.6 406 555.2 409.5 559.6C413 564 416.8 569 419.7 571.6" fill="none" stroke="#000" stroke-width="2.4" stroke-linejoin="round" stroke-linecap="round"/>
<path d="M419.7 571.6C422.6 574.2 424.3 574.8 426.6 575.1C428.9 575.4 430.9 574.8 433.5 573.4C436.1 572 439.2 569.1 442.1 566.5C445 563.9 448.2 560.1 450.8 557.9C453.4 555.7 455.4 554.5 457.7 553.5C460 552.5 462.3 552.1 464.6 552.2C466.9 552.4 469.2 552.7 471.5 554.4C473.8 556.1 476.1 559 478.4 562.2C480.7 565.4 483.3 570.2 485.3 573.4C487.3 576.5 488.7 579.1 490.4 581.1C492.1 583.1 493.9 584.8 495.6 585.5C497.3 586.2 499.1 586.5 500.8 585.5C502.5 584.5 504 581.9 506 579.4C508 576.9 510.6 572.8 512.9 570.8C515.2 568.8 517.8 567.9 519.8 567.7C521.8 567.6 523.3 568.1 525 569.9C526.7 571.7 528.4 575.4 530.1 578.6C531.8 581.8 533.6 586.4 535.3 588.9C537 591.4 538.9 593.2 540.5 593.6C542.1 594 543.2 593.1 544.8 591.5C546.4 589.9 548.1 586 550 583.7C551.9 581.4 554.3 578.4 556 577.7C557.7 577 558.9 577.7 560.3 579.4C561.7 581.1 563.1 585 564.6 588C566.1 591 567.8 595.6 569 597.5C570.2 599.4 571.5 599.2 572 599.5" fill="none" stroke="#000" stroke-width="2.7" stroke-linejoin="round" stroke-linecap="round"/>
<path d="M572 599.5L573.3 599L574.7 597.4L576 595.2L577.4 592.5L578.7 589.8L580 587.6L581.4 586L582.7 585.5L584.3 586.2L585.9 588.3L587.5 591.3L589.2 594.9L590.8 598.6L592.4 601.6L594 603.7L595.6 604.4L596.8 603.9L598.1 602.6L599.3 600.7L600.5 598.4L601.8 596L603 594.1L604.3 592.8L605.5 592.3L606.7 593L608 594.8L609.2 597.7L610.4 601L611.6 604.3L612.8 607.2L614.1 609L615.3 609.7L616.3 609.3L617.4 608L618.4 606.2L619.5 604L620.5 601.8L621.5 600L622.6 598.7L623.6 598.3L624.7 598.8L625.9 600.4L627 602.7L628.2 605.5L629.3 608.3L630.4 610.6L631.6 612.2L632.7 612.7L633.6 612.3L634.4 611.1L635.2 609.4L636.1 607.4L637 605.4L637.8 603.7L638.6 602.5L639.5 602.1L640.4 602.6L641.2 604.2L642.1 606.5L643 609.3L643.8 612.1L644.7 614.4L645.5 616L646.4 616.5L647.1 616.1L647.9 614.9L648.6 613.2L649.4 611.2L650.1 609.2L650.9 607.5L651.6 606.3L652.4 605.9L653.2 606.4L654.1 608L655 610.3L655.8 613.1L656.6 615.9L657.5 618.2L658.4 619.8L659.2 620.3L659.9 619.9L660.5 618.9L661.2 617.3L661.9 615.4L662.5 613.5L663.2 611.9L663.8 610.9L664.5 610.5L665.3 611L666 612.5L666.8 614.7L667.5 617.3L668.3 619.9L669.1 622.1L669.8 623.6L670.6 624.1L671.2 623.7L671.8 622.7L672.3 621L672.9 619.2L673.5 617.3L674.1 615.6L674.6 614.6L675.2 614.2L675.9 614.7L676.5 616.1L677.2 618.2L677.9 620.6L678.5 623.1L679.2 625.2L679.8 626.6L680.5 627.1L681.1 626.7L681.6 625.7L682.2 624.1L682.8 622.2L683.3 620.3L683.9 618.7L684.4 617.7L685 617.3L685.7 617.8L686.3 619.2L687 621.3L687.6 623.8L688.3 626.2L689 628.3L689.6 629.7L690.3 630.2L690.8 629.9L691.2 628.9L691.7 627.4L692.2 625.7L692.7 623.9L693.1 622.4L693.6 621.4L694.1 621.1L694.7 621.6L695.2 622.9L695.8 624.8L696.4 627.1L696.9 629.5L697.5 631.4L698 632.7L698.6 633.2L699.1 632.9L699.5 631.9L700 630.4L700.5 628.7L701 626.9L701.5 625.4L701.9 624.4L702.4 624.1L703 624.6L703.5 625.9L704.1 627.8L704.7 630.1L705.3 632.5L705.9 634.4L706.4 635.7L707 636.2L707.4 635.9L707.8 634.9L708.1 633.4L708.5 631.7L708.9 629.9L709.2 628.4L709.6 627.4L710 627.1L710.5 627.5L711 628.8L711.4 630.6L711.9 632.8L712.4 635L712.8 636.8L713.3 638.1L713.8 638.5L714.2 638.2L714.5 637.2L714.9 635.7L715.3 634L715.7 632.2L716 630.7L716.4 629.7L716.8 629.4L717.3 629.8L717.8 631.1L718.3 632.9L718.8 635.1L719.4 637.3L719.9 639.1L720.4 640.4L720.9 640.8L721.3 640.5L721.6 639.5L722 638L722.4 636.2L722.8 634.5L723.1 633L723.5 632L723.9 631.7L724.3 632.2L724.8 633.5L725.2 635.4L725.6 637.8L726.1 640.1L726.5 642L727 643.3L727.4 643.8L729.2 641L730.7 636.5" fill="none" stroke="#000" stroke-width="2.9" stroke-linejoin="round" stroke-linecap="round"/>
<path d="M211.4 533.8C217.4 531.7 236 525.1 247.5 521.3C259 517.5 271.3 513.5 280.4 510.8C289.5 508.1 295 506.8 302.3 505.3C309.6 503.8 316.8 502.5 324.1 501.6C331.4 500.7 338.7 500.2 346 500.1C353.3 500 360.6 500.2 367.9 500.9C375.2 501.6 383.6 503.2 389.8 504.2C396 505.1 400.1 506.4 405.1 506.6C410.1 506.8 415.2 506.3 419.7 505.2C424.1 504.1 427.5 502.6 431.8 500C436.1 497.4 441.3 493 445.6 489.7C449.9 486.4 454 482.6 457.7 480.2C461.4 477.8 464.9 475.9 468 475C471.1 474.1 473.7 474.1 476.6 474.5C479.5 474.9 482.4 475.5 485.3 477.3C488.2 479.1 491 481.6 493.9 485.4C496.8 489.2 499.9 495.4 502.5 500C505.1 504.6 507.2 509.6 509.4 513C511.6 516.4 513.8 519 515.5 520.4C517.2 521.8 517.9 522.2 519.8 521.1C521.7 520 524.4 516.7 526.7 513.8C529 510.9 531.3 506 533.6 503.5C535.9 501 538.5 499.2 540.5 498.8C542.5 498.4 544 499.2 545.7 500.9C547.4 502.5 549.1 504.8 550.8 508.7C552.5 512.6 554.4 518.5 556 524.2C557.6 530 559.1 537.5 560.3 543.2C561.5 548.9 562.4 554 563.4 558.5C564.4 563 565.1 566.5 566.1 570.3C567.1 574.1 568 580.4 569.3 581.5C570.5 582.6 572.1 579.2 573.6 576.8C575.1 574.4 576.7 569.6 578.2 567.3C579.7 564.9 581.3 562.5 582.7 562.7C584.1 563 585.2 565.3 586.5 568.8C587.8 572.3 589 578.6 590.3 583.9C591.6 589.2 592.7 596.1 594.1 600.6C595.5 605.1 596.7 609.9 598.6 610.9C600.5 611.9 603.1 609.2 605.5 606.7C607.9 604.2 610.5 599.5 613 596.1C615.5 592.7 618.3 587.6 620.6 586.2C622.9 584.8 624.9 585.8 626.7 587.7C628.5 589.6 630 595.7 631.2 597.6C632.5 599.5 632.9 600.9 634.2 599.1C635.5 597.3 637.4 590 638.8 587C640.2 584 641.5 581.1 642.6 580.9C643.7 580.6 644.7 582.7 645.6 585.5C646.5 588.3 647.1 592.6 647.9 597.6C648.7 602.6 649.5 609.8 650.2 615.8C651 621.8 651.8 629.4 652.4 633.9C653 638.4 653.2 642.5 653.8 643C654.4 643.5 655.4 639.5 656.2 637C657 634.5 657.8 629.8 658.5 627.9C659.2 626 659.8 625.2 660.5 625.7C661.2 626.2 662.3 627.5 663 630.9C663.7 634.3 664.1 641 664.5 646.1C664.9 651.2 665.1 655.4 665.6 661.2C666.1 667 666.8 672.8 667.4 680.9C668 689 668.5 701.7 669 710C669.5 718.3 670 727.3 670.2 730.8" fill="none" stroke="#000" stroke-width="1.6" stroke-linejoin="round" stroke-dasharray="2.1 1.85"/>
<path d="M387.6 535.5C388.7 536.2 391.7 538.2 394 539.5C396.3 540.8 400.3 542.6 401.6 543.2M412.8 546.3C413.8 546.2 417.1 546 419 545.5C420.9 545 423.6 543.6 424.5 543.2M436.6 532.8C438.4 531.4 445.8 525.6 447.6 524.2M459 517.6C459.9 517.5 462.7 516.8 464.6 517.3C466.5 517.8 469.6 519.9 470.6 520.4M480.1 530.2C481.4 532.2 486.5 540.3 487.8 542.3M491.3 553.5C492.2 555.5 495.6 563.6 496.5 565.6M500.8 577.7C502.1 579.1 507.3 584.9 508.6 586.3M520.6 577.4C522.5 577.2 530 576.2 531.9 576M543.1 568.2C544.8 566.4 551.4 559.1 553.1 557.3M562.9 567.4C563.7 569 566.6 574.8 567.6 577.1C568.6 579.4 568.8 580.4 569 581.1M577.4 568C578.3 567.1 581.3 563.5 582.7 562.7C584.1 561.9 585.3 563.1 585.8 563.2M591.1 575.6C591.6 577.2 593.6 583.9 594.1 585.5M601.7 593C603.1 592.5 608.6 590.5 610 590M618.3 577.1C618.9 576.4 620.6 572.7 621.8 572.6C622.9 572.5 624.6 575.8 625.2 576.4M628.9 589.2C629.3 590.4 630.8 595 631.2 596.1M632.7 596.8C633.2 596.2 635.3 593.6 635.8 593M639.5 584.7C640.1 586.6 642.7 594.2 643.3 596.1M650.9 601.4C652.2 600.4 657.2 596.3 658.5 595.3M664.2 584.2C664.6 585.3 666.4 589.7 666.8 590.8M669.1 604.4C669.6 605.3 671.6 608.8 672.1 609.7M678.9 608.9C679.4 609.4 681.5 611.5 682 612M690.6 599.8C690.8 598.9 691.3 595.6 692 594.5C692.7 593.4 694.3 593.5 694.8 593.3M696.4 604.4C696.5 605.1 697 608.1 697.1 608.9M700.9 618.8C701.5 618.4 704.1 616.9 704.7 616.5M712.3 615C712.9 613.5 715.2 607.4 715.8 605.9M718.3 610.5C718.8 613.3 720.9 624.3 721.4 627.1M726.7 627.9C727.3 626.9 729.9 622.8 730.5 621.8" fill="none" stroke="#000" stroke-width="2.0" stroke-linejoin="round" stroke-linecap="round"/>
<rect x="614.2" y="229.5" width="8.1" height="8.1" fill="#fff" stroke="#000" stroke-width="1.7"/>
<rect x="690.5" y="213.8" width="8.1" height="8.1" fill="#fff" stroke="#000" stroke-width="1.7"/>
<rect x="734.8" y="216" width="8.1" height="8.1" fill="#fff" stroke="#000" stroke-width="1.7"/>
<rect x="766.7" y="227.5" width="8.1" height="8.1" fill="#fff" stroke="#000" stroke-width="1.7"/>
<rect x="791.2" y="246.4" width="8.1" height="8.1" fill="#fff" stroke="#000" stroke-width="1.7"/>
<rect x="811.2" y="261.9" width="8.1" height="8.1" fill="#fff" stroke="#000" stroke-width="1.7"/>
<rect x="828.6" y="274.8" width="8.1" height="8.1" fill="#fff" stroke="#000" stroke-width="1.7"/>
<rect x="843.2" y="289.6" width="8.1" height="8.1" fill="#fff" stroke="#000" stroke-width="1.7"/>
<rect x="856.2" y="306.8" width="8.1" height="8.1" fill="#fff" stroke="#000" stroke-width="1.7"/>
<rect x="868.2" y="314.8" width="8.1" height="8.1" fill="#fff" stroke="#000" stroke-width="1.7"/>
<rect x="878.6" y="339.1" width="8.1" height="8.1" fill="#fff" stroke="#000" stroke-width="1.7"/>
<rect x="888.2" y="343.8" width="8.1" height="8.1" fill="#fff" stroke="#000" stroke-width="1.7"/>
<rect x="896.7" y="368.8" width="8.1" height="8.1" fill="#fff" stroke="#000" stroke-width="1.7"/>
<rect x="904.8" y="383.6" width="8.1" height="8.1" fill="#fff" stroke="#000" stroke-width="1.7"/>
<rect x="912.2" y="450.6" width="8.1" height="8.1" fill="#fff" stroke="#000" stroke-width="1.7"/>
<rect x="918.9" y="392.3" width="8.1" height="8.1" fill="#fff" stroke="#000" stroke-width="1.7"/>
<rect x="932.2" y="484.3" width="8.1" height="8.1" fill="#fff" stroke="#000" stroke-width="1.7"/>
<rect x="613.7" y="284.5" width="9" height="9" fill="#000"/>
<rect x="690" y="298.5" width="9" height="9" fill="#000"/>
<rect x="734.3" y="299.2" width="9" height="9" fill="#000"/>
<rect x="766.2" y="317.4" width="9" height="9" fill="#000"/>
<rect x="790.8" y="322.7" width="9" height="9" fill="#000"/>
<rect x="810.8" y="338.9" width="9" height="9" fill="#000"/>
<rect x="828.1" y="369.9" width="9" height="9" fill="#000"/>
<rect x="842.7" y="358.5" width="9" height="9" fill="#000"/>
<rect x="855.7" y="399.5" width="9" height="9" fill="#000"/>
<rect x="867.7" y="399.2" width="9" height="9" fill="#000"/>
<rect x="896.2" y="440.7" width="9" height="9" fill="#000"/>
<rect x="904.3" y="385.5" width="9" height="9" fill="#000"/>
<rect x="918.4" y="412" width="9" height="9" fill="#000"/>
<rect x="931.8" y="405.8" width="9" height="9" fill="#000"/>
<path d="M612.8 197.2h10.8l-5.4 8.6z" fill="#000"/>
<path d="M689.1 172.6h10.8l-5.4 8.6z" fill="#000"/>
<path d="M733.4 164.4h10.8l-5.4 8.6z" fill="#000"/>
<path d="M765.3 161.9h10.8l-5.4 8.6z" fill="#000"/>
<path d="M789.9 164.7h10.8l-5.4 8.6z" fill="#000"/>
<path d="M809.9 172.4h10.8l-5.4 8.6z" fill="#000"/>
<path d="M827.2 181.2h10.8l-5.4 8.6z" fill="#000"/>
<path d="M841.8 195.6h10.8l-5.4 8.6z" fill="#000"/>
<path d="M854.8 211.1h10.8l-5.4 8.6z" fill="#000"/>
<path d="M866.8 231.9h10.8l-5.4 8.6z" fill="#000"/>
<path d="M877.2 254.3h10.8l-5.4 8.6z" fill="#000"/>
<path d="M886.8 272.3h10.8l-5.4 8.6z" fill="#000"/>
<path d="M895.3 293.4h10.8l-5.4 8.6z" fill="#000"/>
<path d="M903.4 322.8h10.8l-5.4 8.6z" fill="#000"/>
<path d="M910.9 337.2h10.8l-5.4 8.6z" fill="#000"/>
<path d="M917.5 418.7h10.8l-5.4 8.6z" fill="#000"/>
<path d="M930.9 433h10.8l-5.4 8.6z" fill="#000"/>
<path d="M613.7 175.5h9.1l-4.6 7.3z" fill="#fff" stroke="#000" stroke-width="1.7" stroke-linejoin="miter"/>
<path d="M690 149.5h9.1l-4.6 7.3z" fill="#fff" stroke="#000" stroke-width="1.7" stroke-linejoin="miter"/>
<path d="M734.2 136.2h9.1l-4.6 7.3z" fill="#fff" stroke="#000" stroke-width="1.7" stroke-linejoin="miter"/>
<path d="M766.2 130.4h9.1l-4.6 7.3z" fill="#fff" stroke="#000" stroke-width="1.7" stroke-linejoin="miter"/>
<path d="M790.8 126.6h9.1l-4.6 7.3z" fill="#fff" stroke="#000" stroke-width="1.7" stroke-linejoin="miter"/>
<path d="M810.8 124.6h9.1l-4.6 7.3z" fill="#fff" stroke="#000" stroke-width="1.7" stroke-linejoin="miter"/>
<path d="M828.1 125.5h9.1l-4.6 7.3z" fill="#fff" stroke="#000" stroke-width="1.7" stroke-linejoin="miter"/>
<path d="M842.7 130.2h9.1l-4.6 7.3z" fill="#fff" stroke="#000" stroke-width="1.7" stroke-linejoin="miter"/>
<path d="M855.7 134.7h9.1l-4.6 7.3z" fill="#fff" stroke="#000" stroke-width="1.7" stroke-linejoin="miter"/>
<path d="M867.7 142.8h9.1l-4.6 7.3z" fill="#fff" stroke="#000" stroke-width="1.7" stroke-linejoin="miter"/>
<path d="M878.1 150.4h9.1l-4.6 7.3z" fill="#fff" stroke="#000" stroke-width="1.7" stroke-linejoin="miter"/>
<path d="M887.7 160h9.1l-4.6 7.3z" fill="#fff" stroke="#000" stroke-width="1.7" stroke-linejoin="miter"/>
<path d="M896.2 170.6h9.1l-4.6 7.3z" fill="#fff" stroke="#000" stroke-width="1.7" stroke-linejoin="miter"/>
<path d="M904.2 177.3h9.1l-4.6 7.3z" fill="#fff" stroke="#000" stroke-width="1.7" stroke-linejoin="miter"/>
<path d="M911.8 191.6h9.1l-4.6 7.3z" fill="#fff" stroke="#000" stroke-width="1.7" stroke-linejoin="miter"/>
<path d="M918.4 206.8h9.1l-4.6 7.3z" fill="#fff" stroke="#000" stroke-width="1.7" stroke-linejoin="miter"/>
<path d="M925.2 225.8h9.1l-4.6 7.3z" fill="#fff" stroke="#000" stroke-width="1.7" stroke-linejoin="miter"/>
<path d="M931.8 232.6h9.1l-4.6 7.3z" fill="#fff" stroke="#000" stroke-width="1.7" stroke-linejoin="miter"/>
<path d="M937.5 263.4h9.1l-4.6 7.3z" fill="#fff" stroke="#000" stroke-width="1.7" stroke-linejoin="miter"/>
<path d="M943.5 278.6h9.1l-4.6 7.3z" fill="#fff" stroke="#000" stroke-width="1.7" stroke-linejoin="miter"/>
<circle cx="618.2" cy="167.8" r="5.5"/>
<circle cx="694.5" cy="142.5" r="5.5"/>
<circle cx="738.8" cy="127.4" r="5.5"/>
<circle cx="770.7" cy="120.3" r="5.5"/>
<circle cx="795.3" cy="114.9" r="5.5"/>
<circle cx="815.3" cy="112.7" r="5.5"/>
<circle cx="832.6" cy="111.9" r="5.5"/>
<circle cx="847.2" cy="114.4" r="5.5"/>
<circle cx="860.2" cy="116.6" r="5.5"/>
<circle cx="872.2" cy="121.5" r="5.5"/>
<circle cx="882.6" cy="125.7" r="5.5"/>
<circle cx="892.2" cy="131.2" r="5.5"/>
<circle cx="900.7" cy="138.8" r="5.5"/>
<circle cx="908.8" cy="147.2" r="5.5"/>
<circle cx="916.3" cy="157" r="5.5"/>
<circle cx="922.9" cy="168.3" r="5.5"/>
<circle cx="929.8" cy="183.8" r="5.5"/>
<circle cx="936.3" cy="197.7" r="5.5"/>
<circle cx="942" cy="214.1" r="5.5"/>
<circle cx="948" cy="233.1" r="5.5"/>
</svg></body></html>
